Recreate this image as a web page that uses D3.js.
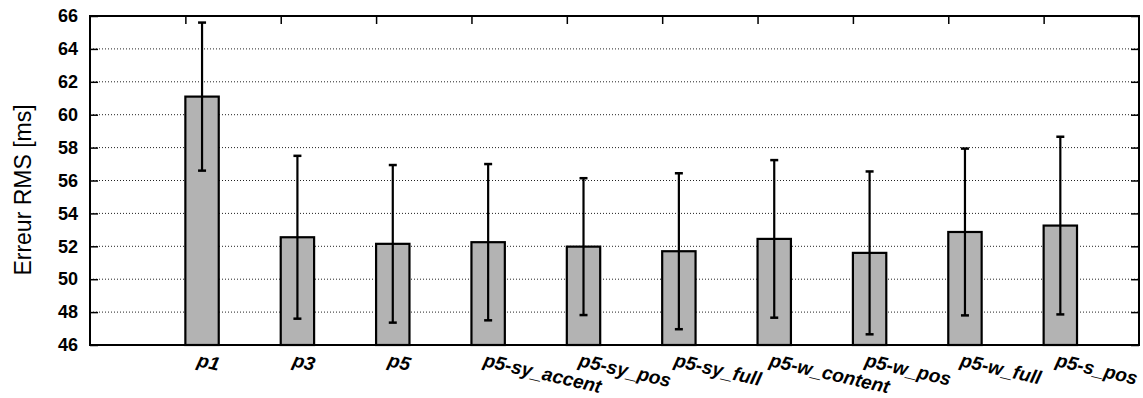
<!DOCTYPE html>
<html>
<head>
<meta charset="utf-8">
<script src="https://cdn.jsdelivr.net/npm/d3@7"></script>
<style>
  body { margin: 0; background: #fff; }
</style>
</head>
<body>
<div id="chart-area"></div>
<script>
// data
const categories = ["p1", "p3", "p5", "p5-sy_accent", "p5-sy_pos", "p5-sy_full",
  "p5-w_content", "p5-w_pos", "p5-w_full", "p5-s_pos"]
const means = [61.1, 52.55, 52.15, 52.25, 51.98, 51.7, 52.45, 51.6, 52.87, 53.26]
const errors = [4.5, 4.95, 4.79, 4.75, 4.16, 4.74, 4.79, 4.95, 5.07, 5.4]
const yTicks = [46, 48, 50, 52, 54, 56, 58, 60, 62, 64, 66]

const MARGIN = { LEFT: 90, RIGHT: 4, TOP: 16, BOTTOM: 53 }
const WIDTH = 1143 - MARGIN.LEFT - MARGIN.RIGHT
const HEIGHT = 398 - MARGIN.TOP - MARGIN.BOTTOM

const svg = d3.select("#chart-area").append("svg")
  .attr("width", 1143)
  .attr("height", 398)

const g = svg.append("g")
  .attr("transform", `translate(${MARGIN.LEFT}, ${MARGIN.TOP})`)

const x = d3.scaleLinear()
  .domain([-1, 10])
  .range([0, WIDTH])

const y = d3.scaleLinear()
  .domain([46, 66])
  .range([HEIGHT, 0])

const BAR_W = 0.35
const TICK = 8

// grid lines
g.selectAll(".grid")
  .data(yTicks.filter(d => d > 46 && d < 66))
  .enter().append("line")
  .attr("class", "grid")
  .attr("x1", 0)
  .attr("x2", WIDTH)
  .attr("y1", d => y(d))
  .attr("y2", d => y(d))
  .attr("stroke", "#222")
  .attr("stroke-width", 1)
  .attr("stroke-dasharray", "1,2")

// y axis (left, labels + inward ticks)
const yAxisCall = d3.axisLeft(y)
  .tickValues(yTicks)
  .tickSize(-TICK)
  .tickPadding(12)

const yAxis = g.append("g")
  .attr("class", "y axis")
  .call(yAxisCall)
yAxis.select(".domain").remove()
yAxis.selectAll("line").attr("stroke", "#000").attr("stroke-width", 1.5)
yAxis.selectAll("text")
  .attr("font-family", "Liberation Sans, Arial, sans-serif")
  .attr("font-weight", "bold")
  .attr("font-size", "18px")
  .attr("fill", "#000")

// right mirror ticks
const yRight = g.append("g")
  .attr("transform", `translate(${WIDTH}, 0)`)
  .call(d3.axisRight(y).tickValues(yTicks).tickSize(-TICK).tickFormat(""))
yRight.select(".domain").remove()
yRight.selectAll("line").attr("stroke", "#000").attr("stroke-width", 1.5)

// top mirror ticks
const xTop = g.append("g")
  .call(d3.axisTop(x).tickValues(d3.range(categories.length)).tickSize(-TICK).tickFormat(""))
xTop.select(".domain").remove()
xTop.selectAll("line").attr("stroke", "#000").attr("stroke-width", 1.5)

// bars
g.selectAll(".bar")
  .data(means)
  .enter().append("rect")
  .attr("class", "bar")
  .attr("x", (d, i) => x(i))
  .attr("y", d => y(d))
  .attr("width", x(BAR_W) - x(0))
  .attr("height", d => HEIGHT - y(d))
  .attr("fill", "#b3b3b3")
  .attr("stroke", "#000")
  .attr("stroke-width", 2.2)

// error bars
const errG = g.selectAll(".err")
  .data(means.map((m, i) => ({ m: m, e: errors[i], i: i })))
  .enter().append("g")
  .attr("class", "err")
  .attr("transform", d => `translate(${x(d.i + BAR_W / 2)}, 0)`)

errG.append("line")
  .attr("x1", 0).attr("x2", 0)
  .attr("y1", d => y(d.m + d.e))
  .attr("y2", d => y(d.m - d.e))
  .attr("stroke", "#000").attr("stroke-width", 2.2)

errG.append("line")
  .attr("x1", -4).attr("x2", 4)
  .attr("y1", d => y(d.m + d.e))
  .attr("y2", d => y(d.m + d.e))
  .attr("stroke", "#000").attr("stroke-width", 2.5)

errG.append("line")
  .attr("x1", -4).attr("x2", 4)
  .attr("y1", d => y(d.m - d.e))
  .attr("y2", d => y(d.m - d.e))
  .attr("stroke", "#000").attr("stroke-width", 2.5)

// frame
g.append("rect")
  .attr("x", 0).attr("y", 0)
  .attr("width", WIDTH).attr("height", HEIGHT)
  .attr("fill", "none")
  .attr("stroke", "#000")
  .attr("stroke-width", 2)

// x labels, slightly rotated
g.selectAll(".x-label")
  .data(categories)
  .enter().append("text")
  .attr("class", "x-label")
  .attr("transform", (d, i) => `translate(${x(i) + 11}, ${HEIGHT + 21}) rotate(13)`)
  .attr("font-family", "Liberation Sans, Arial, sans-serif")
  .attr("font-weight", "bold")
  .attr("font-style", "italic")
  .attr("font-size", "19px")
  .attr("text-anchor", "start")
  .text(d => d)

// Y label
svg.append("text")
  .attr("x", -190)
  .attr("y", 31)
  .attr("transform", "rotate(-90)")
  .attr("font-family", "Liberation Sans, Arial, sans-serif")
  .attr("font-size", "23px")
  .attr("text-anchor", "middle")
  .text("Erreur RMS [ms]")
</script>
</body>
</html>
